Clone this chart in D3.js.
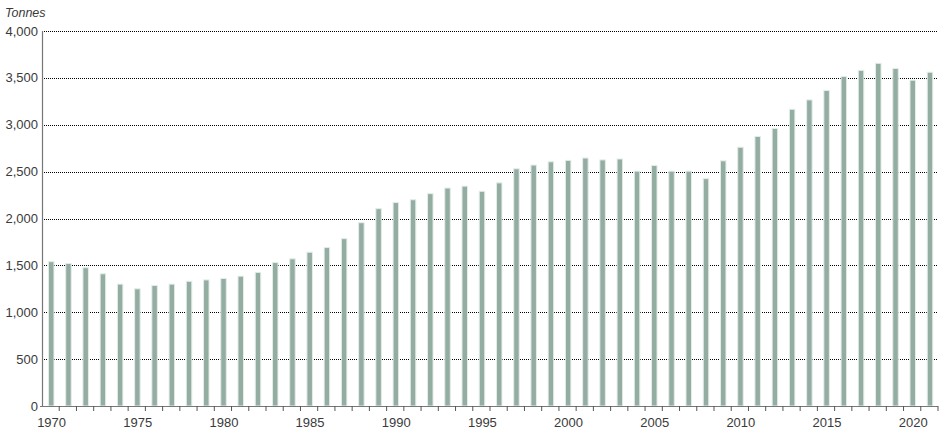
<!DOCTYPE html>
<html>
<head>
<meta charset="utf-8">
<script src="https://cdnjs.cloudflare.com/ajax/libs/d3/7.8.5/d3.min.js"></script>
<style>
    body { margin: 0; background: #fff; }
    .tick-label { font-family: "Liberation Sans", Arial, sans-serif; font-size: 13px; fill: #3a3a3a; }
    .unit-label { font-family: "Liberation Sans", Arial, sans-serif; font-size: 12.5px; font-style: italic; fill: #3a3a3a; }
</style>
</head>
<body>
<svg id="chart" width="948" height="446"></svg>
<script>

// years shown on the x axis
var years = d3.range(1970, 2022);

// tonnes per year
var tonnes = [
    1540, 1520, 1475, 1410, 1300, 1250, 1285, 1300, 1330, 1345,
    1360, 1385, 1425, 1530, 1570, 1640, 1690, 1785, 1955, 2105,
    2170, 2200, 2265, 2325, 2345, 2290, 2380, 2530, 2570, 2605,
    2620, 2645, 2625, 2635, 2505, 2565, 2505, 2505, 2425, 2615,
    2760, 2875, 2960, 3165, 3265, 3365, 3515, 3580, 3655, 3600,
    3475, 3560
];

var yTicks = [0, 500, 1000, 1500, 2000, 2500, 3000, 3500, 4000];
var labelYears = [1970, 1975, 1980, 1985, 1990, 1995, 2000, 2005, 2010, 2015, 2020];

var plotLeft = 42, plotRight = 938, plotTop = 31, plotBottom = 406;

var svg = d3.select("#chart");

var x = d3.scaleBand()
    .domain(years)
    .range([plotLeft, plotRight]);

var y = d3.scaleLinear()
    .domain([0, 4000])
    .range([plotBottom, plotTop]);

var fmt = d3.format(",");

// dotted gridlines (drawn first so bars sit on top)
svg.append("g")
    .selectAll("line")
    .data(yTicks.filter(function(d) { return d > 0; }))
    .enter().append("line")
    .attr("x1", plotLeft)
    .attr("x2", plotRight)
    .attr("y1", function(d) { return Math.round(y(d)) + 0.5; })
    .attr("y2", function(d) { return Math.round(y(d)) + 0.5; })
    .style("stroke", "#000")
    .style("stroke-width", 1.1)
    .style("stroke-dasharray", "1,1");

// bars
var barW = 5.5;
svg.append("g")
    .selectAll("rect")
    .data(years)
    .enter().append("rect")
    .attr("x", function(d) { return x(d) + x.bandwidth() / 2 - barW / 2 + 0.6; })
    .attr("width", barW)
    .attr("y", function(d, i) { return y(tonnes[i]); })
    .attr("height", function(d, i) { return plotBottom - y(tonnes[i]); })
    .style("fill", "#93ada2")
    .style("stroke", "#e4ece8")
    .style("stroke-width", 1);

// y axis line
svg.append("line")
    .attr("x1", plotLeft + 0.5).attr("x2", plotLeft + 0.5)
    .attr("y1", plotTop).attr("y2", plotBottom)
    .style("stroke", "#777")
    .style("stroke-width", 1.2);

// x axis line
svg.append("line")
    .attr("x1", plotLeft - 2).attr("x2", plotRight)
    .attr("y1", plotBottom + 0.5).attr("y2", plotBottom + 0.5)
    .style("stroke", "#777")
    .style("stroke-width", 1.2);

// x ticks at the boundary after each year
svg.append("g")
    .selectAll("line")
    .data(years)
    .enter().append("line")
    .attr("x1", function(d) { return x(d) + x.bandwidth(); })
    .attr("x2", function(d) { return x(d) + x.bandwidth(); })
    .attr("y1", plotBottom)
    .attr("y2", plotBottom + 5)
    .style("stroke", "#555")
    .style("stroke-width", 1);

// x labels
svg.append("g")
    .selectAll("text")
    .data(labelYears)
    .enter().append("text")
    .attr("class", "tick-label")
    .attr("x", function(d) { return x(d) + x.bandwidth() / 2 + 1; })
    .attr("y", plotBottom + 21)
    .attr("text-anchor", "middle")
    .text(function(d) { return d; });

// y labels
svg.append("g")
    .selectAll("text")
    .data(yTicks)
    .enter().append("text")
    .attr("class", "tick-label")
    .attr("x", plotLeft - 4)
    .attr("y", function(d) { return y(d) + 4.5; })
    .attr("text-anchor", "end")
    .text(function(d) { return fmt(d); });

// unit label
svg.append("text")
    .attr("class", "unit-label")
    .attr("x", 5)
    .attr("y", 17)
    .text("Tonnes");

</script>
</body>
</html>
